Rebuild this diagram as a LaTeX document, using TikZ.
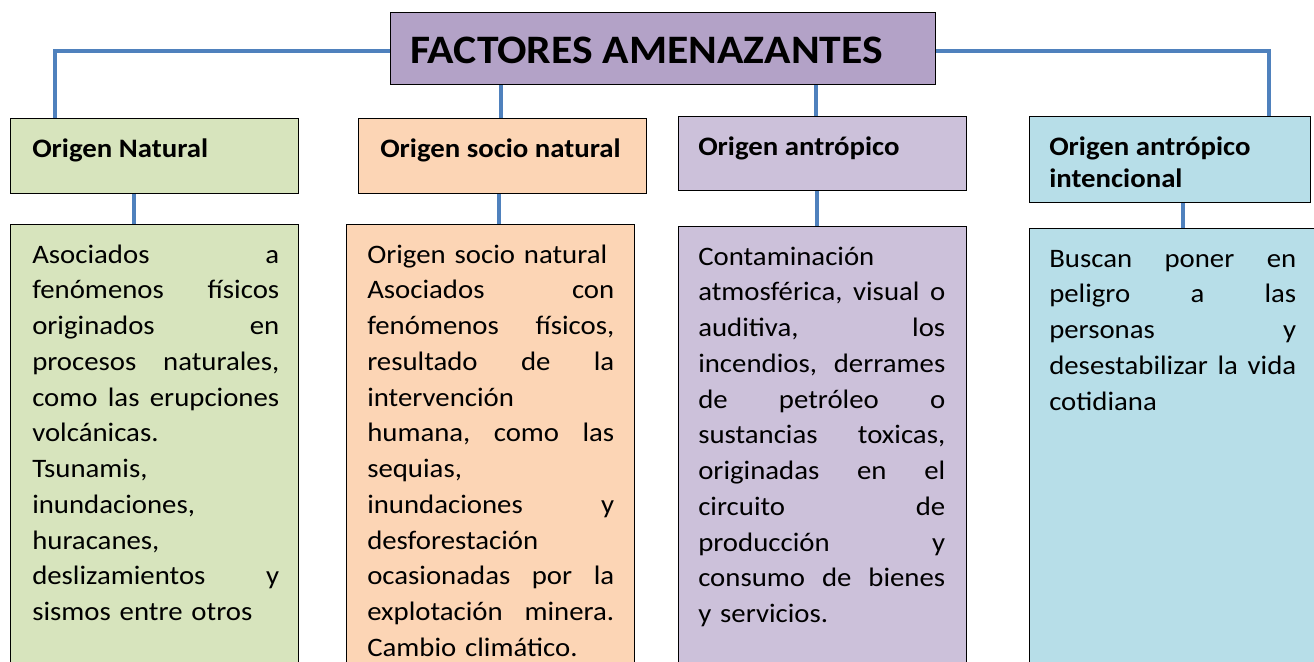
\documentclass[tikz,border=0pt]{standalone}
\usepackage{fontspec}
\setmainfont{Carlito}[FakeStretch=1.08]
\usetikzlibrary{calc}
\setlength\parindent{0pt}
\newlength\bw \setlength\bw{185.25pt}
\newcommand\jl[1]{\makebox[\bw][s]{#1}}
\newcommand\fl{\rule{0pt}{20pt}}
\definecolor{titlefill}{HTML}{B3A2C7}
\definecolor{natfill}{HTML}{D7E4BD}
\definecolor{socfill}{HTML}{FCD5B5}
\definecolor{antfill}{HTML}{CCC1DA}
\definecolor{intfill}{HTML}{B7DEE8}
\definecolor{linkblue}{HTML}{4F81BD}
\begin{document}
\begin{tikzpicture}[x=0.75pt,y=-0.75pt,
  box/.style={draw=black, line width=0.8pt, inner sep=0pt, anchor=north west},
  conn/.style={draw=linkblue, line width=3pt},
  body/.style={anchor=north west, inner sep=0pt, text width=\bw, align=left, font=\fontsize{20}{26.8}\selectfont},
  head/.style={anchor=north west, inner sep=0pt, align=left, font=\bfseries\fontsize{20}{24}\selectfont}]
\useasboundingbox (0,0) rectangle (1314,661);
\clip (0,0) rectangle (1314,661);
\fill[white] (0,0) rectangle (1314,661);

% boxes
\node[box, fill=titlefill, minimum width=545*0.75pt, minimum height=72*0.75pt] (title) at (390,12) {};
\node[box, fill=natfill, minimum width=288*0.75pt, minimum height=75*0.75pt] (nat) at (10,118) {};
\node[box, fill=socfill, minimum width=288*0.75pt, minimum height=75*0.75pt] (soc) at (358,118) {};
\node[box, fill=antfill, minimum width=288*0.75pt, minimum height=74*0.75pt] (ant) at (678,116) {};
\node[box, fill=intfill, minimum width=281*0.75pt, minimum height=86*0.75pt] (int) at (1029,116) {};
\node[box, fill=natfill, minimum width=288*0.75pt, minimum height=460*0.75pt] (natb) at (10,224) {};
\node[box, fill=socfill, minimum width=288*0.75pt, minimum height=460*0.75pt] (socb) at (346,224) {};
\node[box, fill=antfill, minimum width=288*0.75pt, minimum height=460*0.75pt] (antb) at (678,226) {};
\node[box, fill=intfill, minimum width=300*0.75pt, minimum height=460*0.75pt] (intb) at (1029,228) {};

% connectors
\draw[conn] ([shift={(0,2)}]title.west) -| ([shift={(-100,0)}]nat.north);
\draw[conn] ([shift={(0,2)}]title.east) -| ([shift={(98.5,0)}]int.north);
\draw[conn] ([shift={(-2,0)}]soc.north |- title.south) -- ([shift={(-2,0)}]soc.north);
\draw[conn] ([shift={(-7,0)}]ant.north |- title.south) -- ([shift={(-7,0)}]ant.north);
\draw[conn] ([shift={(-21,0)}]nat.south) -- ([shift={(-21,0)}]nat.south |- natb.north);
\draw[conn] ([shift={(-4,0)}]soc.south) -- ([shift={(-4,0)}]soc.south |- socb.north);
\draw[conn] ([shift={(-6,0)}]ant.south) -- ([shift={(-6,0)}]ant.south |- antb.north);
\draw[conn] ([shift={(13,0)}]int.south) -- ([shift={(13,0)}]int.south |- intb.north);

% texts
\node[anchor=north west, inner sep=0pt, font=\bfseries\fontsize{30.3}{35}\selectfont] (titletext) at (410,24.5) {\rule{0pt}{29pt}FACTORES AMENAZANTES};
\node[head] (natH) at (32,130.3) {\fl Origen Natural};
\node[head] (socH) at (380,130.3) {\fl Origen socio natural};
\node[head] (antH) at (698,128.3) {\fl Origen antrópico};
\node[head] (intH) at (1049,128.3) {\fl Origen antrópico\\intencional};

\node[body] (natT) at (32,236.3) {\fl\jl{Asociados\hfill a}\\
\jl{fenómenos\hfill físicos}\\
\jl{originados\hfill en}\\
\jl{procesos\hfill naturales,}\\
\jl{como\hfill las\hfill erupciones}\\
volcánicas.\\
Tsunamis,\\
inundaciones,\\
huracanes,\\
\jl{deslizamientos\hfill y}\\
sismos entre otros};

\node[body] (socT) at (367,236.3) {\fl Origen socio natural\\
\jl{Asociados\hfill con}\\
\jl{fenómenos\hfill físicos,}\\
\jl{resultado\hfill de\hfill la}\\
intervención\\
\jl{humana,\hfill como\hfill las}\\
sequias,\\
\jl{inundaciones\hfill y}\\
desforestación\\
\jl{ocasionadas\hfill por\hfill la}\\
\jl{explotación\hfill minera.}\\
Cambio climático.};

\node[body] (antT) at (698,238.3) {\fl Contaminación\\
\jl{atmosférica,\hfill visual\hfill o}\\
\jl{auditiva,\hfill los}\\
\jl{incendios,\hfill derrames}\\
\jl{de\hfill petróleo\hfill o}\\
\jl{sustancias\hfill toxicas,}\\
\jl{originadas\hfill en\hfill el}\\
\jl{circuito\hfill de}\\
\jl{producción\hfill y}\\
\jl{consumo\hfill de\hfill bienes}\\
y servicios.};

\node[body] (intT) at (1049,240.3) {\fl\jl{Buscan\hfill poner\hfill en}\\
\jl{peligro\hfill a\hfill las}\\
\jl{personas\hfill y}\\
\jl{desestabilizar\hfill la\hfill vida}\\
cotidiana};
\end{tikzpicture}
\end{document}
